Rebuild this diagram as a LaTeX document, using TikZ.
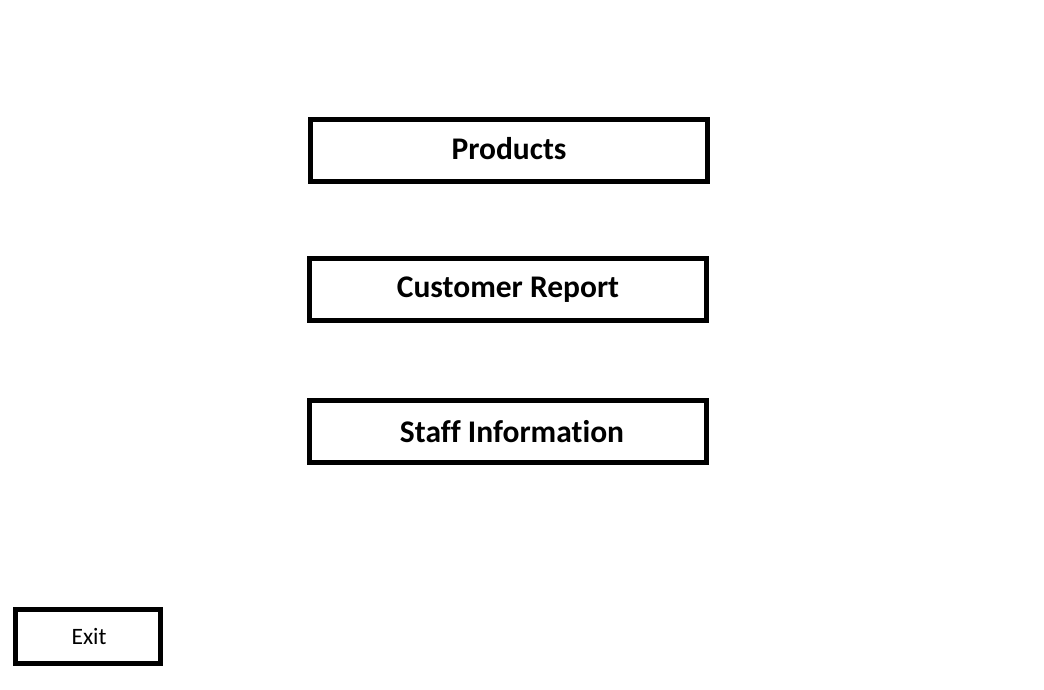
\documentclass[tikz,border=0pt]{standalone}
\usepackage{fontspec}
\setmainfont[Ligatures=NoCommon]{Carlito}
\usepackage{tikz}

\tikzset{
    menubox/.style={draw, line width=5pt, minimum width=397pt,
        minimum height=62pt, inner sep=0pt,
        font=\fontsize{31.5}{36}\selectfont\bfseries},
    exitbox/.style={draw, line width=5pt, minimum width=145pt,
        minimum height=54pt, inner sep=0pt,
        font=\fontsize{23.5}{28}\selectfont}
}

\begin{document}
\begin{tikzpicture}[x=1pt, y=-1pt]
        \useasboundingbox (0, 0) rectangle (1044, 689);

        \pgfmathsetmacro{\menuX}{509}

        \node[menubox] (products) at (\menuX, 150) {\raisebox{3pt}{Products}};
        \node[menubox] (report) at (\menuX - 1, 289.5) {Customer Report};
        \node[menubox] (staff) at (\menuX - 1, 431.5) {\hspace{8pt}Staff Information};

        \node[exitbox] (exit) at (88, 636.5) {\hspace{2pt}Exit};

    \end{tikzpicture}
\end{document}
